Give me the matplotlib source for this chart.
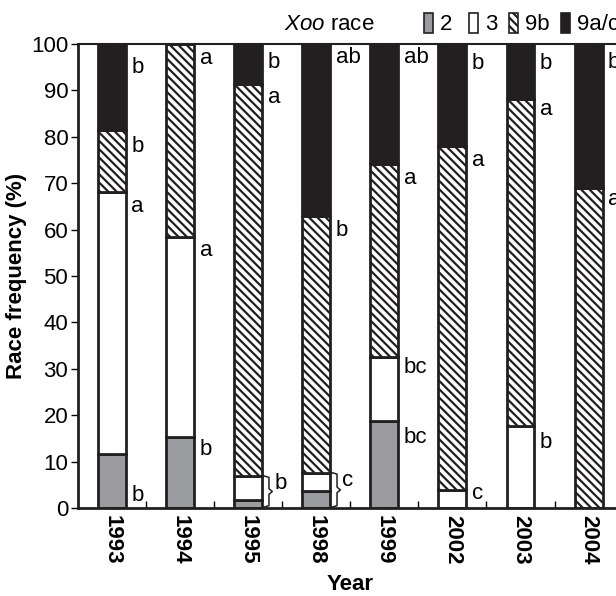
import numpy as np
import matplotlib
matplotlib.use("Agg")
import matplotlib.pyplot as plt
from matplotlib.patches import Patch

plt.rcParams['font.family'] = ['Liberation Sans', 'DejaVu Sans']
plt.rcParams['hatch.linewidth'] = 1.6
plt.rcParams['mathtext.fontset'] = 'custom'
plt.rcParams['mathtext.it'] = 'Liberation Sans:italic'
plt.rcParams['mathtext.rm'] = 'Liberation Sans'

years = ["1993", "1994", "1995", "1998", "1999", "2002", "2003", "2004"]
race_names = ["2", "3", "9b", "9a/c"]

# frequency (%) of each race per year
race2 = [11.6, 15.3, 1.7, 3.7, 18.8, 0.0, 0.0, 0.0]
race3 = [56.5, 43.1, 5.2, 3.9, 13.8, 3.9, 17.7, 0.0]
race9b = [13.4, 41.6, 84.5, 55.3, 41.5, 74.1, 70.4, 69.0]
race9ac = [18.5, 0.0, 8.6, 37.1, 25.9, 22.0, 11.9, 31.0]

# significance letters: (year index, text, y position %)
letters = [
    (0, "b", 95.0), (0, "b", 78.0), (0, "a", 65.0), (0, "b", 2.6),
    (1, "a", 96.8), (1, "a", 55.4), (1, "b", 12.7),
    (2, "b", 96.0), (2, "a", 88.4),
    (3, "ab", 97.0), (3, "b", 59.7),
    (4, "ab", 97.0), (4, "a", 71.1), (4, "bc", 30.2), (4, "bc", 15.3),
    (5, "b", 95.9), (5, "a", 75.0), (5, "c", 3.2),
    (6, "b", 95.9), (6, "a", 85.8), (6, "b", 14.2),
    (7, "b", 96.0), (7, "a", 66.4),
]
# braced letters (race 2 + race 3 together)
brace_letters = [(2, "b"), (3, "c")]

colors = ["#9a9b9e", "white", "white", "#231f20"]
hatches = [None, None, "\\\\\\\\", None]
FS = 16

fig = plt.figure(figsize=(6.16, 5.96), dpi=100)
ax = fig.add_axes([78 / 616, 88 / 596, 544.6 / 616, 464 / 596])

x = np.arange(len(years))
w = 0.41
series = [race2, race3, race9b, race9ac]
bottom = np.zeros(len(years))
for vals, c, h in zip(series, colors, hatches):
    vals = np.array(vals)
    ax.bar(x, vals, w, bottom=bottom, color=c, edgecolor="#231f20",
           linewidth=2, hatch=h, zorder=2)
    bottom += vals

for i, t, yv in letters:
    ax.text(i + w / 2 + 0.08, yv, t, fontsize=FS, ha="left", va="center")

def brace(ax, xl, y0, y1, dx):
    ym = (y0 + y1) / 2
    verts = [(xl, y0), (xl + dx, y0 + 0.3), (xl + dx, ym - 0.6), (xl + dx * 1.7, ym),
             (xl + dx, ym + 0.6), (xl + dx, y1 - 0.3), (xl, y1)]
    ax.plot([v[0] for v in verts], [v[1] for v in verts], color="#231f20",
            lw=1.1, solid_joinstyle="round", clip_on=False, zorder=3)

for i, t in brace_letters:
    top = race2[i] + race3[i]
    brace(ax, i + w / 2 + 0.03, 0.2, top, 0.07)
    ax.text(i + w / 2 + 0.18, top * 0.78, t, fontsize=FS, ha="left", va="center")

ax.set_xlim(-0.5, 7.5)
ax.set_ylim(0, 100)
ax.set_yticks(np.arange(0, 101, 10))
ax.tick_params(axis="y", labelsize=FS, width=1, length=5, direction="out", pad=2)
ax.set_xticks(x)
ax.set_xticklabels(years, rotation=270, fontsize=FS, fontweight="bold")
ax.tick_params(axis="x", length=0, pad=5)
ax.set_xticks(x[:-1] + 0.5, minor=True)
ax.tick_params(axis="x", which="minor", direction="in", length=5, width=1)
for s in ["left", "bottom", "top"]:
    ax.spines[s].set_linewidth(2)
    ax.spines[s].set_color("#231f20")
ax.spines["top"].set_linewidth(1.5)
ax.spines["right"].set_visible(False)

ax.set_ylabel("Race frequency (%)", fontsize=FS, fontweight="bold", labelpad=3)
ax.set_xlabel("Year", fontsize=FS, fontweight="bold", labelpad=7)

fig.text(375 / 616, 1 - 24 / 596, r"$\it{Xoo}$ race", fontsize=FS, ha="right", va="center")
# one legend entry per key, placed along the top
legend_x = [424, 469, 509, 561]
for name, c, h, lx in zip(race_names, colors, hatches, legend_x):
    hd = Patch(facecolor=c, edgecolor="#231f20", hatch=h, linewidth=1.2)
    fig.legend([hd], [name], loc="center left", bbox_to_anchor=(lx / 616, 1 - 24 / 596),
               frameon=False, fontsize=FS, handlelength=0.42, handleheight=1.0,
               handletextpad=0.3, borderpad=0, borderaxespad=0)

fig.savefig("out.png", dpi=100)
